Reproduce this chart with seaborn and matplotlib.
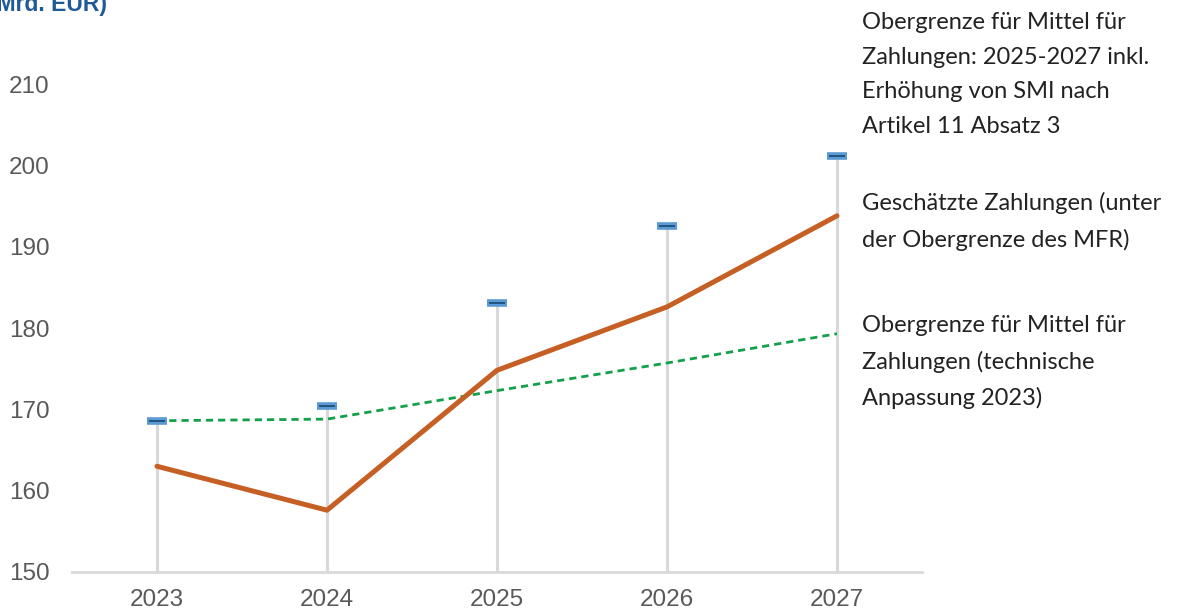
import numpy as np
import pandas as pd
import matplotlib
matplotlib.use('Agg')
import matplotlib.pyplot as plt
import seaborn as sns

# data
years = [2023, 2024, 2025, 2026, 2027]
ceiling_smi = [168.6, 170.4, 183.1, 192.5, 201.1]       # blue caps
estimated = [163.0, 157.6, 174.8, 182.6, 193.8]         # orange line
ceiling_tech = [168.6, 168.8, 172.3, 175.7, 179.3]      # green dashed

labels = ["Obergrenze für Mittel für\nZahlungen: 2025-2027 inkl.\nErhöhung von SMI nach\nArtikel 11 Absatz 3",
          "Geschätzte Zahlungen (unter\nder Obergrenze des MFR)",
          "Obergrenze für Mittel für\nZahlungen (technische\nAnpassung 2023)"]

df = pd.DataFrame({'Jahr': years, 'smi': ceiling_smi,
                   'est': estimated, 'tech': ceiling_tech})

sns.set_style('white')
plt.rcParams['font.family'] = ['Liberation Sans', 'DejaVu Sans']

fig = plt.figure(figsize=(11.77, 6.11), dpi=100)
ax = fig.add_axes([72 / 1177, 1 - 572 / 611, 850 / 1177, (572 - 67.8) / 611])

# grey high-low lines from the baseline to the cap
ax.vlines(df['Jahr'], 150, df['smi'], color='#d9d9d9', lw=2.2, zorder=1)

sns.lineplot(data=df, x='Jahr', y='tech', ax=ax, color='#13a04a', lw=2.0,
             linestyle=(0, (2.6, 1.8)), zorder=2)
sns.lineplot(data=df, x='Jahr', y='est', ax=ax, color='#c55f24', lw=3.6,
             zorder=3)

# blue caps
ax.plot(df['Jahr'], df['smi'], ls='none', marker='_', ms=14, mew=5.5,
        color='#5b9bd5', zorder=4)
ax.plot(df['Jahr'], df['smi'], ls='none', marker='_', ms=11, mew=1.3,
        color='#1f4e79', zorder=5)

ax.set_xlim(2022.5, 2027.5)
ax.set_ylim(150, 212)
ax.set_xticks(years)
ax.set_yticks([150, 160, 170, 180, 190, 200, 210])
ax.set_xlabel('')
ax.set_ylabel('')
ax.tick_params(axis='both', length=0, labelsize=17.5, colors='#595959')
ax.tick_params(axis='x', pad=12)
ax.tick_params(axis='y', pad=16)
for s in ['top', 'right', 'left']:
    ax.spines[s].set_visible(False)
ax.spines['bottom'].set_color('#d9d9d9')
ax.spines['bottom'].set_linewidth(2)
ax.grid(False)

fig.text(-0.009, 1 - 11 / 611, '(Mrd. EUR)', fontsize=16.5, fontweight='bold',
         color='#1f5a96', va='baseline', ha='left')

tx = 862 / 1177
for lab, ytop in zip(labels, [12, 192, 315]):
    fig.text(tx, 1 - ytop / 611, lab, fontsize=17, color='#222222',
             va='top', ha='left', linespacing=1.8, family=['Lato', 'DejaVu Sans'])

fig.savefig('out.png', dpi=100)
